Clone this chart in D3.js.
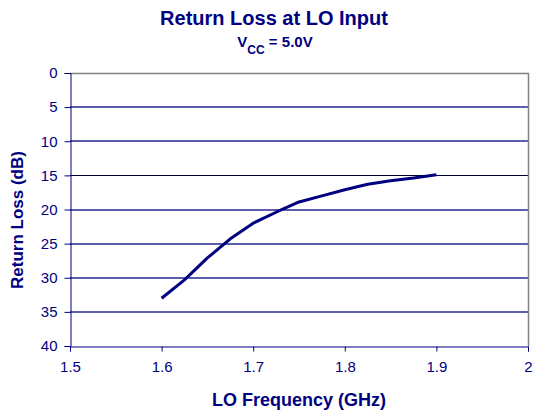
<!DOCTYPE html>
<html>
<head>
<meta charset="utf-8">
<script src="https://cdn.jsdelivr.net/npm/d3@7"></script>
<style>
  body { margin: 0; background: #fff; }
  text { font-family: "Liberation Sans", Arial, sans-serif; fill: #000080; }
</style>
</head>
<body>
<div class="container"></div>
<script>
// data
const freqs = [1.6, 1.625, 1.65, 1.675, 1.7, 1.725, 1.75, 1.775, 1.8, 1.825, 1.85, 1.875, 1.9];
const returnLoss = [33.0, 30.3, 27.1, 24.3, 22.0, 20.4, 18.9, 18.0, 17.1, 16.3, 15.8, 15.4, 14.9];
const xTicks = [1.5, 1.6, 1.7, 1.8, 1.9, 2];
const yTicks = [0, 5, 10, 15, 20, 25, 30, 35, 40];

const width = 534, height = 413;
const margin = { top: 73, right: 6, bottom: 67, left: 70 };
const navy = "#000080";

const svg = d3.select(".container")
  .append("svg")
  .attr("width", width)
  .attr("height", height);

const x = d3.scaleLinear().domain([1.5, 2]).range([margin.left, width - margin.right]);
const y = d3.scaleLinear().domain([0, 40]).range([margin.top, height - margin.bottom]);

// gridlines (the 15 dB one is drawn crisp and dark like in the original)
svg.append("g")
  .selectAll("line")
  .data(yTicks.filter(d => d > 0 && d < 40))
  .enter()
  .append("line")
  .attr("x1", x(1.5))
  .attr("x2", x(2))
  .attr("y1", d => Math.round(y(d)) + (d === 15 ? 0.5 : 0))
  .attr("y2", d => Math.round(y(d)) + (d === 15 ? 0.5 : 0))
  .attr("stroke", d => d === 15 ? "#000030" : navy)
  .attr("stroke-width", d => d === 15 ? 1 : 1.3)
  .attr("stroke-opacity", d => d === 15 ? 1 : 0.85);

// gray top and right border
svg.append("path")
  .attr("d", `M${x(1.5)},${Math.round(y(0)) + 0.5}H${Math.round(x(2)) + 0.5}V${y(40)}`)
  .attr("fill", "none")
  .attr("stroke", "#808080")
  .attr("stroke-width", 1.5);

// axes
const yAxis = svg.append("g")
  .attr("transform", `translate(${Math.round(x(1.5)) + 0.5},0)`)
  .call(d3.axisLeft(y).tickValues(yTicks).tickSize(6).tickPadding(7).tickFormat(d3.format("d")));

const xAxis = svg.append("g")
  .attr("transform", `translate(0,${Math.round(y(40)) + 0.5})`)
  .call(d3.axisBottom(x).tickValues(xTicks).tickSize(5).tickPadding(10).tickFormat(d => d === 2 ? "2" : d3.format(".1f")(d)));

[xAxis, yAxis].forEach(a => {
  a.select(".domain").attr("stroke", navy);
  a.selectAll(".tick line").attr("stroke", navy);
  a.selectAll(".tick text")
    .attr("fill", navy)
    .style("font-size", "15px")
    .style("font-family", "'Liberation Sans', Arial, sans-serif");
});

// the curve
svg.append("path")
  .datum(freqs.map((f, i) => [f, returnLoss[i]]))
  .attr("fill", "none")
  .attr("stroke", navy)
  .attr("stroke-width", 3)
  .attr("stroke-linejoin", "round")
  .attr("d", d3.line().x(d => x(d[0])).y(d => y(d[1])));

// titles
svg.append("text")
  .attr("x", 274)
  .attr("y", 25)
  .attr("text-anchor", "middle")
  .style("font-size", "20px")
  .style("font-weight", "bold")
  .text("Return Loss at LO Input");

const sub = svg.append("text")
  .attr("x", 275)
  .attr("y", 47)
  .attr("text-anchor", "middle")
  .style("font-size", "15px")
  .style("font-weight", "bold");
sub.append("tspan").text("V");
sub.append("tspan").attr("dy", 7).style("font-size", "12px").text("CC");
sub.append("tspan").attr("dy", -7).text(" = 5.0V");

svg.append("text")
  .attr("x", 299)
  .attr("y", 406)
  .attr("text-anchor", "middle")
  .style("font-size", "18px")
  .style("font-weight", "bold")
  .text("LO Frequency (GHz)");

svg.append("text")
  .attr("transform", "translate(23,220) rotate(-90)")
  .attr("text-anchor", "middle")
  .style("font-size", "17px")
  .style("font-weight", "bold")
  .text("Return Loss (dB)");
</script>
</body>
</html>
